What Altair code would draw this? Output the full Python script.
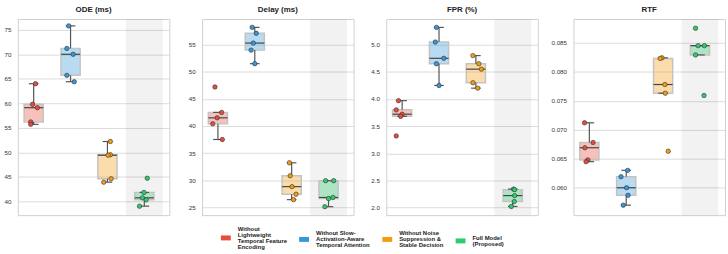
import json
import altair as alt
import pandas as pd

# ---------------- data ----------------
categories = [
    "Without Lightweight Temporal Feature Encoding",
    "Without Slow-Activation-Aware Temporal Attention",
    "Without Noise Suppression & Stable Decision",
    "Full Model (Proposed)",
]
legend_lines = [
    ["Without", "Lightweight", "Temporal Feature", "Encoding"],
    ["Without Slow-", "Activation-Aware", "Temporal Attention"],
    ["Without Noise", "Suppression &", "Stable Decision"],
    ["Full Model", "(Proposed)"],
]
colors = ["#e74c3c", "#3498db", "#f39c12", "#2ecc71"]
highlight = "Full Model (Proposed)"

metrics = ["ODE (ms)", "Delay (ms)", "FPR (%)", "RTF"]

ode_values = [
    [64.0, 59.8, 59.1, 56.2, 55.7],
    [75.8, 71.2, 70.0, 65.7, 64.4],
    [52.2, 49.5, 49.4, 44.6, 43.9],
    [44.7, 41.8, 40.7, 40.3, 39.0],
]
delay_values = [
    [47.2, 42.5, 41.5, 40.4, 37.5],
    [58.2, 57.1, 55.3, 54.0, 51.5],
    [33.2, 30.8, 28.8, 27.4, 26.4],
    [29.9, 29.9, 26.8, 26.6, 25.1],
]
fpr_values = [
    [3.97, 3.80, 3.72, 3.68, 3.32],
    [5.32, 5.05, 4.75, 4.65, 4.25],
    [4.80, 4.65, 4.55, 4.30, 4.20],
    [2.34, 2.33, 2.22, 2.11, 2.02],
]
rtf_values = [
    [0.0712, 0.0678, 0.0669, 0.0648, 0.0645],
    [0.0630, 0.0619, 0.0600, 0.0587, 0.0570],
    [0.0824, 0.0823, 0.0778, 0.0763, 0.0663],
    [0.0875, 0.0845, 0.0845, 0.0829, 0.0759],
]

# horizontal jitter of each point (category units)
ode_jitter = [
    [0.05, -0.03, 0.10, -0.08, -0.08],
    [-0.05, -0.10, 0.07, -0.10, 0.10],
    [0.08, 0.08, 0.02, 0.10, -0.10],
    [0.08, -0.01, -0.05, 0.05, -0.13],
]
delay_jitter = [
    [-0.08, 0.10, -0.02, -0.14, 0.12],
    [-0.07, 0.04, -0.04, -0.10, 0.00],
    [-0.06, -0.04, 0.01, 0.12, 0.05],
    [-0.08, 0.14, 0.12, 0.00, -0.10],
]
fpr_jitter = [
    [-0.10, -0.16, 0.00, -0.04, -0.16],
    [-0.07, -0.10, 0.13, -0.07, 0.00],
    [-0.08, 0.08, 0.15, -0.08, 0.05],
    [0.02, 0.05, 0.05, 0.04, -0.04],
]
rtf_jitter = [
    [-0.13, 0.10, -0.12, -0.04, -0.09],
    [0.04, -0.14, 0.01, 0.05, -0.08],
    [-0.03, -0.08, 0.05, 0.06, 0.14],
    [-0.12, -0.05, 0.12, -0.12, 0.11],
]

all_values = [ode_values, delay_values, fpr_values, rtf_values]
all_jitter = [ode_jitter, delay_jitter, fpr_jitter, rtf_jitter]

y_domains = [[37.17, 77.2], [23.54, 59.74], [1.86, 5.474], [0.05528, 0.08909]]
y_ticks = [
    [40, 45, 50, 55, 60, 65, 70, 75],
    [25, 30, 35, 40, 45, 50, 55],
    [2.0, 2.5, 3.0, 3.5, 4.0, 4.5, 5.0],
    [0.060, 0.065, 0.070, 0.075, 0.080, 0.085],
]
y_formats = ["d", "d", ".1f", ".3f"]
x_domain = [-0.43, 3.68]

# ---------------- layout / style ----------------
W, H = 153, 198
extents = [17, 26, 26, 29]
FONT = "Liberation Sans"
LH = 3  # half of the legend line spacing (blank lines interleaved)
BLANK = "\u200b"  # zero-width space: survives trimming, still advances a line

cscale = alt.Scale(domain=categories, range=colors)

# legend labels: centre each multi-line block on its swatch by interleaving
# half-height blank lines and shifting the block up (dy in guide-label style)
max_n = max(len(l) for l in legend_lines)
padded = []
for lines in legend_lines:
    arr = [BLANK] * (max_n - len(lines))
    for k, s in enumerate(lines):
        if k:
            arr.append(BLANK)
        arr.append(s)
    padded.append(arr)
DY = -(max_n - 1) * LH

label_expr = " : ".join(
    f"datum.label == {json.dumps(c)} ? {json.dumps(l)}"
    for c, l in zip(categories, padded)
) + " : datum.label"

legend = alt.Legend(
    title=None, orient="none", legendX=205, legendY=216,
    direction="horizontal", columns=4,
    symbolType="M-1,-0.5H1V0.5H-1Z", symbolSize=100,
    symbolStrokeWidth=0, symbolOpacity=1,
    labelFont=FONT, labelFontSize=6, labelFontWeight="bold",
    labelColor="#222222", labelOffset=7, columnPadding=12,
    labelExpr=label_expr, labelLimit=300, padding=0,
    labelBaseline="middle",
)


def make_panel(i):
    rows = []
    for c, cat in enumerate(categories):
        for v, j in zip(all_values[i][c], all_jitter[i][c]):
            rows.append({"cat": cat, "idx": c, "value": v, "xj": c + j})
    df = pd.DataFrame(rows)

    xs = alt.Scale(domain=x_domain, nice=False, zero=False)
    ys = alt.Scale(domain=y_domains[i], nice=False, zero=False)
    yaxis = alt.Axis(
        values=y_ticks[i], format=y_formats[i], grid=True, ticks=False,
        domain=False, labelPadding=7, minExtent=extents[i],
        maxExtent=extents[i], labelFontSize=6.3, labelFont=FONT,
        labelColor="#333333", gridColor="#d8d8d8", gridWidth=0.9, title=None,
        labelOverlap=False, labelFlush=False, labelOffset=-DY,
    )

    def Y(field):
        return alt.Y(field, scale=ys, axis=yaxis)

    hi_idx = categories.index(highlight)
    shade_df = pd.DataFrame({"x0": [hi_idx - 0.5], "x1": [hi_idx + 0.5]})
    shade = alt.Chart(shade_df).mark_rect(color="#000000", opacity=0.05).encode(
        x=alt.X("x0:Q", scale=xs, axis=None), x2="x1:Q",
        y=alt.value(0), y2=alt.value(H),
    )

    base = alt.Chart(df)
    stats = (
        base.transform_joinaggregate(
            q1="q1(value)", q3="q3(value)", med="median(value)",
            groupby=["cat", "idx"],
        )
        .transform_calculate(iqr="datum.q3 - datum.q1")
        .transform_calculate(
            lo="datum.q1 - 1.5 * datum.iqr", hi="datum.q3 + 1.5 * datum.iqr"
        )
        .transform_calculate(
            vin="(datum.value >= datum.lo && datum.value <= datum.hi) ? datum.value : null"
        )
        .transform_aggregate(
            q1="max(q1)", q3="max(q3)", med="max(med)",
            wlo="min(vin)", whi="max(vin)", groupby=["cat", "idx"],
        )
        .transform_calculate(
            bl="datum.idx - 0.26", br="datum.idx + 0.26",
            cl="datum.idx - 0.13", cr="datum.idx + 0.13",
        )
    )

    box = stats.mark_rect(fillOpacity=0.35, stroke="#c3c3c3", strokeWidth=1.5).encode(
        x=alt.X("bl:Q", scale=xs, axis=None), x2="br:Q",
        y=Y("q1:Q"), y2="q3:Q",
        fill=alt.Fill("cat:N", scale=cscale, legend=legend),
    )
    wcol = "#555555"
    w_lo = stats.mark_rule(color=wcol, strokeWidth=1.2).encode(
        x=alt.X("idx:Q", scale=xs, axis=None), y=Y("wlo:Q"), y2="q1:Q")
    w_hi = stats.mark_rule(color=wcol, strokeWidth=1.2).encode(
        x=alt.X("idx:Q", scale=xs, axis=None), y=Y("q3:Q"), y2="whi:Q")
    c_lo = stats.mark_rule(color=wcol, strokeWidth=1.2).encode(
        x=alt.X("cl:Q", scale=xs, axis=None), x2="cr:Q", y=Y("wlo:Q"))
    c_hi = stats.mark_rule(color=wcol, strokeWidth=1.2).encode(
        x=alt.X("cl:Q", scale=xs, axis=None), x2="cr:Q", y=Y("whi:Q"))
    med = stats.mark_rule(color="#444444", strokeWidth=1.2).encode(
        x=alt.X("bl:Q", scale=xs, axis=None), x2="br:Q", y=Y("med:Q"))

    pts = base.mark_circle(size=20, stroke="#333333", strokeWidth=0.6, opacity=1).encode(
        x=alt.X("xj:Q", scale=xs, axis=None),
        y=Y("value:Q"),
        fill=alt.Fill("cat:N", scale=cscale, legend=legend),
    )

    return alt.layer(shade, box, w_lo, w_hi, c_lo, c_hi, med, pts).properties(
        width=W, height=H, title=metrics[i]
    )


panels = [make_panel(i) for i in range(4)]

chart = (
    alt.hconcat(*panels, spacing=5)
    .resolve_scale(fill="shared")
    .resolve_legend(fill="shared")
    .properties(padding={"left": 0, "top": 4, "right": 2, "bottom": 0})
    .configure(font=FONT, style={"guide-label": {"lineHeight": LH, "dy": DY}})
    .configure_view(stroke="#cfcfcf", strokeWidth=1)
    .configure_title(font=FONT, fontSize=8, fontWeight="bold", color="#222222",
                     offset=5, anchor="middle")
)

chart.save("out.html", embed_options={"renderer": "svg", "actions": False})
